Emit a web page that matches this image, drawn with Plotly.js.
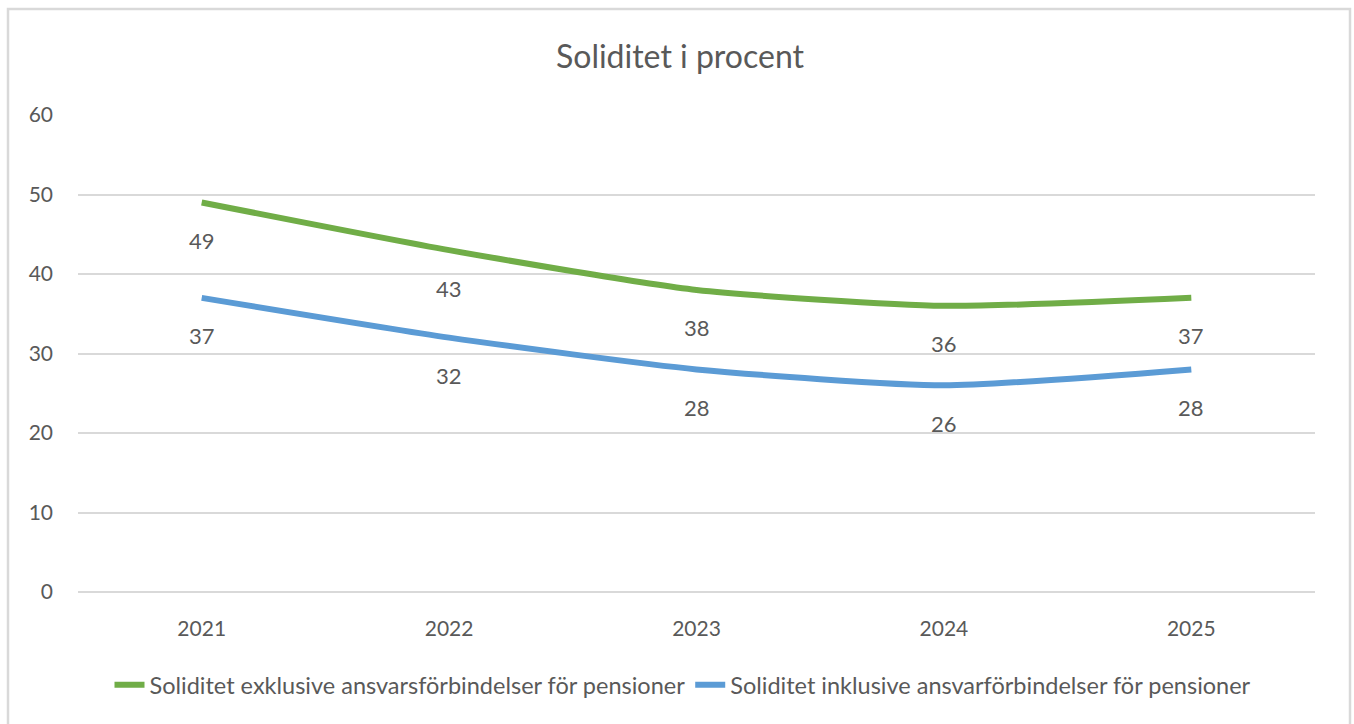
<!DOCTYPE html>
<html>
<head>
<meta charset="utf-8">
<script src="https://cdn.plot.ly/plotly-3.0.1.min.js"></script>
<style>
html,body{margin:0;padding:0;background:#fff;}
#chart{width:1354px;height:724px;}
</style>
</head>
<body>
<div id="chart"></div>
<script>
const years = ['2021', '2022', '2023', '2024', '2025'];
const exklusive = [49, 43, 38, 36, 37];
const inklusive = [37, 32, 28, 26, 28];
const seriesNames = [
  'Soliditet exklusive ansvarsförbindelser för pensioner',
  'Soliditet inklusive ansvarförbindelser för pensioner'
];
const yTicks = [0, 10, 20, 30, 40, 50, 60];

const FONT = 'Lato, "Open Sans", sans-serif';
const TXT = '#595959';

const traces = [
  {
    x: years, y: exklusive, name: seriesNames[0], type: 'scatter', mode: 'lines',
    line: {color: '#70AD47', width: 6, shape: 'spline', smoothing: 0.6},
    hoverinfo: 'x+y'
  },
  {
    x: years, y: inklusive, name: seriesNames[1], type: 'scatter', mode: 'lines',
    line: {color: '#5B9BD5', width: 6, shape: 'spline', smoothing: 0.6},
    hoverinfo: 'x+y'
  }
];

const annotations = [];
[exklusive, inklusive].forEach(arr => {
  arr.forEach((v, i) => {
    annotations.push({
      x: i, y: v, xref: 'x', yref: 'y', text: String(v),
      showarrow: false, yshift: -38, xanchor: 'center', yanchor: 'middle',
      font: {family: FONT, size: 22, color: TXT}
    });
  });
});

const layout = {
  width: 1354, height: 724,
  margin: {l: 78, r: 39, t: 115, b: 132},
  paper_bgcolor: '#fff', plot_bgcolor: '#fff',
  title: {
    text: 'Soliditet i procent',
    x: 680 / 1354, xref: 'container', xanchor: 'center',
    y: 1 - 57/724, yref: 'container', yanchor: 'middle',
    font: {family: FONT, size: 32, color: TXT}
  },
  xaxis: {
    type: 'category', categoryorder: 'array', categoryarray: years,
    range: [-0.5, 4.5], showgrid: false, zeroline: false, showline: false,
    ticks: '', tickfont: {family: FONT, size: 21, color: TXT}, ticklabelstandoff: 22
  },
  yaxis: {
    range: [0, 60], tickvals: yTicks, ticktext: yTicks.map(String),
    showgrid: true, gridcolor: '#D9D9D9', gridwidth: 2,
    zeroline: true, zerolinecolor: '#D9D9D9', zerolinewidth: 2,
    showline: false, ticks: '', ticklabelstandoff: 24,
    tickfont: {family: FONT, size: 21, color: TXT}
  },
  showlegend: true,
  legend: {
    orientation: 'h', x: 683 / 1354, xanchor: 'center', xref: 'container',
    y: 1 - 685/724, yref: 'container', yanchor: 'middle',
    font: {family: FONT, size: 23.5, color: TXT},
    itemwidth: 30, tracegroupgap: 0, bgcolor: 'rgba(0,0,0,0)'
  },
  annotations: annotations,
  shapes: [{
    type: 'rect', xref: 'paper', yref: 'paper',
    x0: (8 - 78) / 1237, x1: (1350 - 78) / 1237,
    y0: (592 - 740) / 477, y1: (592 - 9) / 477,
    line: {color: '#D9D9D9', width: 2.5}, fillcolor: 'rgba(0,0,0,0)', layer: 'below'
  }]
};

Plotly.newPlot('chart', traces, layout, {displayModeBar: false, staticPlot: true});
</script>
</body>
</html>
